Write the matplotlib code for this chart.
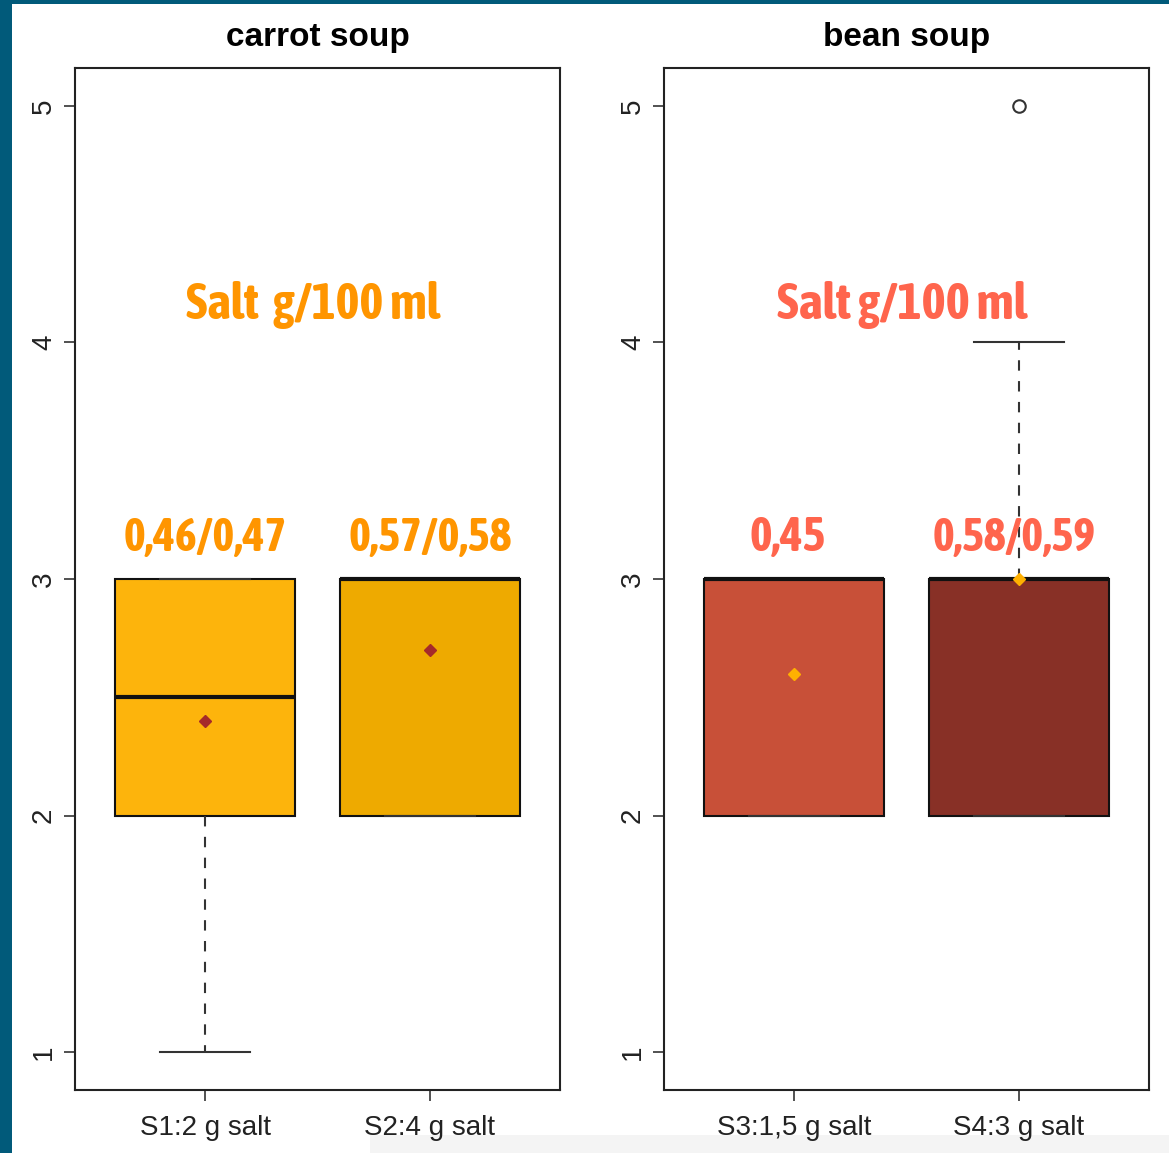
import matplotlib
matplotlib.use("Agg")
import matplotlib.pyplot as plt
from matplotlib import font_manager
from matplotlib.patches import Rectangle

# box statistics
labels_carrot = ["S1:2 g salt", "S2:4 g salt"]
labels_bean = ["S3:1,5 g salt", "S4:3 g salt"]
q1 = [2, 2, 2, 2]
med = [2.5, 3, 3, 3]
q3 = [3, 3, 3, 3]
whislo = [1, 2, 2, 2]
whishi = [3, 3, 3, 4]
means = [2.4, 2.7, 2.6, 3.0]
fliers = [[], [], [], [5]]
box_colors = ["#FDB40C", "#EEAA00", "#C85038", "#883026"]
mean_colors = ["#A52A2A", "#A52A2A", "#FFB000", "#FFB000"]
notes_carrot = ["0,46/0,47", "0,57/0,58"]
notes_bean = ["0,45", "0,58/0,59"]

# pick a narrow bold face if one is installed, otherwise Roboto
fonts = font_manager.fontManager.ttflist
names = {f.name for f in fonts}
narrow = None
for f in fonts:
    if ("Narrow" in f.name or "Condensed" in f.name) and f.weight in ("bold", 700):
        narrow = f.name
        break
if narrow is None:
    narrow = "Roboto" if "Roboto" in names else "DejaVu Sans"
sans = "Liberation Sans" if "Liberation Sans" in names else "DejaVu Sans"

W, H = 1169, 1153
fig = plt.figure(figsize=(W / 100, H / 100), dpi=100)
fig.patch.set_facecolor("#015A7A")
fig.patches.append(Rectangle((12 / W, 0), 1, 1 - 4 / H, transform=fig.transFigure,
                             facecolor="white", edgecolor="none", zorder=-10))
fig.patches.append(Rectangle((370 / W, 0), 1, 18 / H, transform=fig.transFigure,
                             facecolor="#F4F4F4", edgecolor="none", zorder=-9))

panels = [
    ("carrot soup", labels_carrot, notes_carrot, "#FF9500", 75, [0, 1], [1.0, 2.0], 1.48),
    ("bean soup", labels_bean, notes_bean, "#FF654D", 664, [2, 3], [0.97, 1.98], 1.48),
]

fitted = []  # (text artist, wanted width px)
for title, labels, notes, ncol, left, idx, note_x, salt_x in panels:
    ax = fig.add_axes([left / W, 1 - 1090 / H, 485 / W, 1022 / H])
    stats = []
    for i, lab in zip(idx, labels):
        stats.append(dict(label=lab, q1=q1[i], med=med[i], q3=q3[i],
                          whislo=whislo[i], whishi=whishi[i],
                          mean=means[i], fliers=fliers[i]))
    bp = ax.bxp(stats, positions=[1, 2], widths=0.8, patch_artist=True,
                showmeans=True, capwidths=0.4,
                boxprops=dict(linewidth=1.5, edgecolor="#111111"),
                medianprops=dict(linewidth=3, color="#111111"),
                whiskerprops=dict(linewidth=1.5, color="#333333", linestyle=(0, (5, 5))),
                capprops=dict(linewidth=1.5, color="#333333"),
                flierprops=dict(marker="o", markersize=9, markerfacecolor="none",
                                markeredgecolor="#333333", markeredgewidth=1.5))
    for patch, i in zip(bp["boxes"], idx):
        patch.set_facecolor(box_colors[i])
    for m, i in zip(bp["means"], idx):
        m.set_marker("D")
        m.set_markersize(6)
        m.set_markerfacecolor(mean_colors[i])
        m.set_markeredgecolor(mean_colors[i])
        m.set_zorder(5)

    ax.set_xlim(0.42, 2.58)
    ax.set_ylim(0.84, 5.16)
    ax.set_yticks([1, 2, 3, 4, 5])
    ax.set_yticklabels(["1", "2", "3", "4", "5"], rotation=90, va="center",
                       fontsize=20, family=sans, color="#222222")
    ax.set_xticks([1, 2])
    ax.set_xticklabels(labels, fontsize=20, family=sans, color="#222222")
    ax.tick_params(length=8, width=1.2, color="#333333")
    ax.tick_params(axis="x", pad=10)
    ax.tick_params(axis="y", pad=5)
    for s in ax.spines.values():
        s.set_linewidth(1.5)
        s.set_color("#222222")
    ax.set_title(title, fontsize=24, fontweight="bold", family=sans, pad=16)

    salt = "Salt g/100 ml" if title == "bean soup" else "Salt  g/100 ml"
    t = ax.text(salt_x, 4.16, salt, ha="center", va="center", fontsize=37,
                fontweight="bold", family=narrow, color=ncol)
    fitted.append((t, 250 if title == "bean soup" else 254))
    for x, s in zip(note_x, notes):
        t = ax.text(x, 3.175, s, ha="center", va="center", fontsize=33,
                    fontweight="bold", family=narrow, color=ncol)
        fitted.append((t, 76 if s == "0,45" else 163))

# shrink the big labels so their width matches the picture
fig.canvas.draw()
r = fig.canvas.get_renderer()
for t, want in fitted:
    w = t.get_window_extent(r).width
    t.set_fontsize(t.get_fontsize() * want / w)

fig.savefig("out.png", dpi=100, facecolor=fig.get_facecolor())
